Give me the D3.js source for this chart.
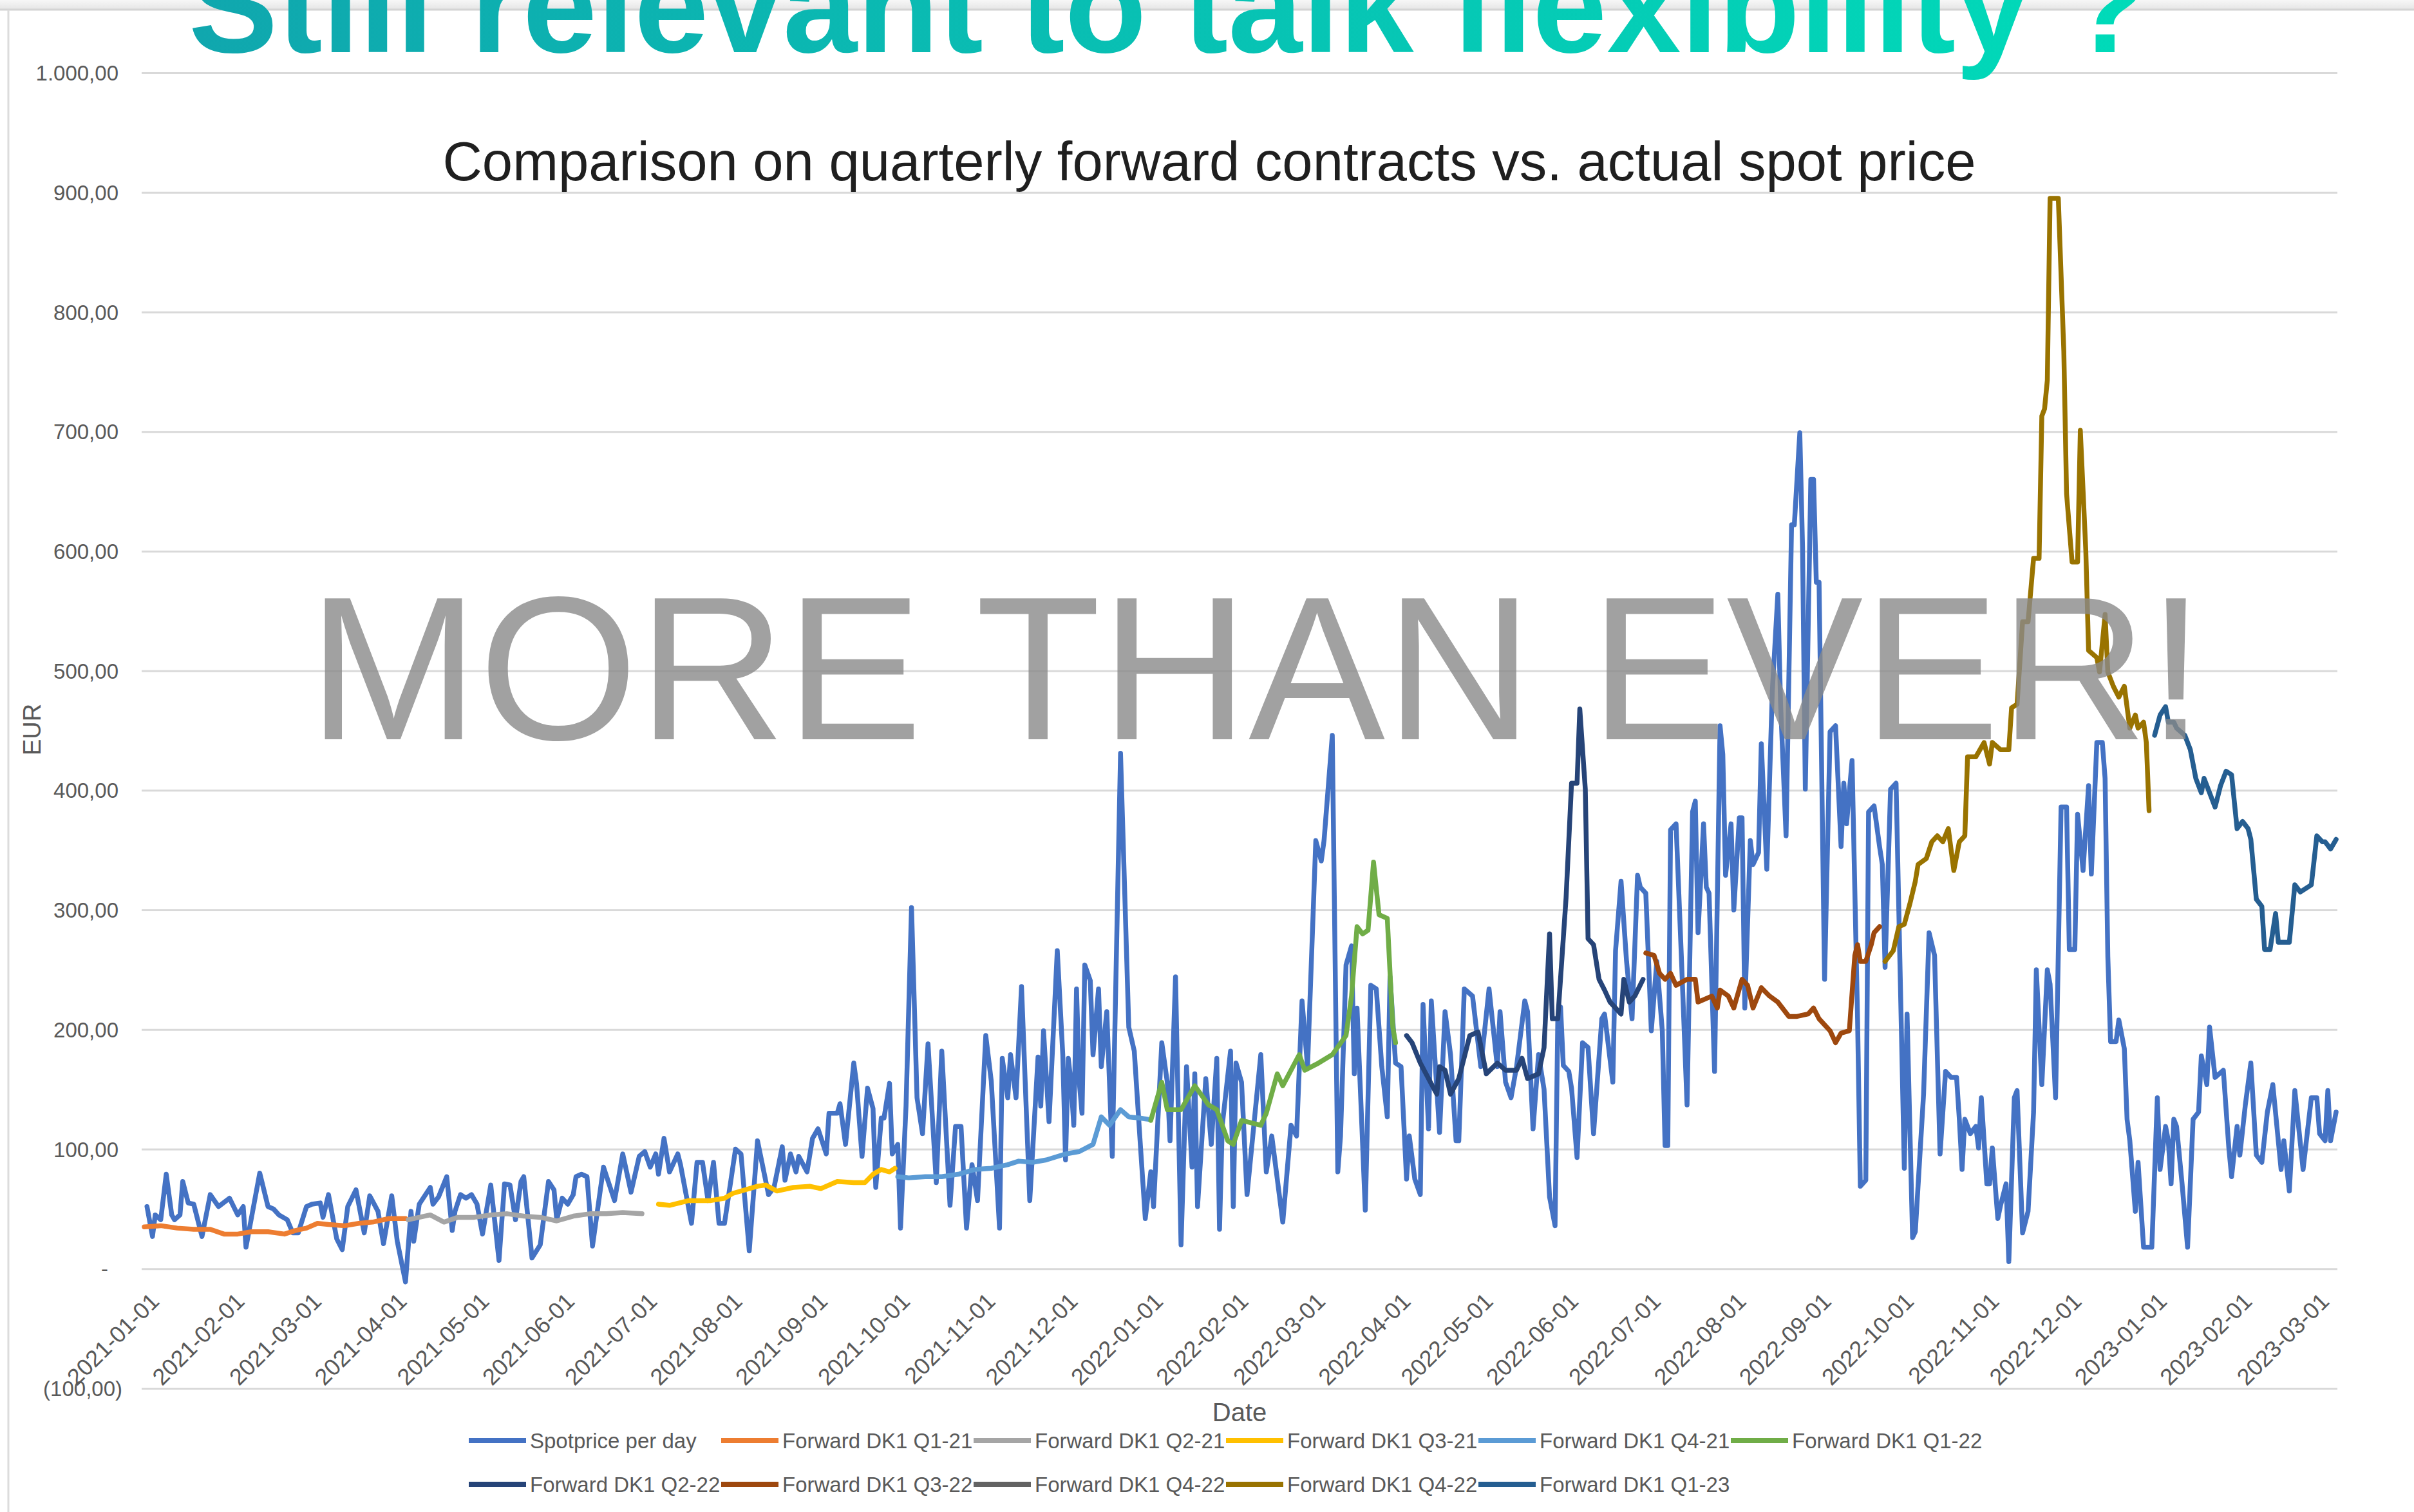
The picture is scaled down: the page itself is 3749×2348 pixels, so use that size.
<!DOCTYPE html>
<html>
<head>
<meta charset="utf-8">
<script src="https://cdn.jsdelivr.net/npm/d3@7"></script>
<style>
html,body{margin:0;padding:0;background:#fff;overflow:hidden}
svg{display:block}
text{font-family:"Liberation Sans",Arial,sans-serif}
</style>
</head>
<body>
<svg id="chart" width="3749" height="2348"></svg>
<script>
// ---------------- DATA ----------------
const titleText = "Still relevant to talk flexibility ?";
const subtitleText = "Comparison on quarterly forward contracts vs. actual spot price";
const watermarkText = "MORE THAN EVER!";
const xAxisTitle = "Date";
const yAxisTitle = "EUR";

const yTickValues = [-100, 0, 100, 200, 300, 400, 500, 600, 700, 800, 900, 1000];
const yTickLabels = ["(100,00)", "-", "100,00", "200,00", "300,00", "400,00", "500,00", "600,00", "700,00", "800,00", "900,00", "1.000,00"];

const xTickLabels = ["2021-01-01","2021-02-01","2021-03-01","2021-04-01","2021-05-01","2021-06-01","2021-07-01","2021-08-01","2021-09-01","2021-10-01","2021-11-01","2021-12-01",
  "2022-01-01","2022-02-01","2022-03-01","2022-04-01","2022-05-01","2022-06-01","2022-07-01","2022-08-01","2022-09-01","2022-10-01","2022-11-01","2022-12-01",
  "2023-01-01","2023-02-01","2023-03-01"];

const seriesNames = ["Spotprice per day","Forward DK1 Q1-21","Forward DK1 Q2-21","Forward DK1 Q3-21","Forward DK1 Q4-21","Forward DK1 Q1-22",
  "Forward DK1 Q2-22","Forward DK1 Q3-22","Forward DK1 Q4-22","Forward DK1 Q4-22","Forward DK1 Q1-23"];
const seriesColors = ["#4472C4","#ED7D31","#A5A5A5","#FFC000","#5B9BD5","#70AD47","#264478","#9E480E","#636363","#997300","#255E91"];

const spotDates = [
"2021-01-02","2021-01-04","2021-01-05","2021-01-07","2021-01-09","2021-01-11","2021-01-12","2021-01-14","2021-01-15","2021-01-17","2021-01-19","2021-01-22","2021-01-25","2021-01-28",
"2021-02-01","2021-02-04","2021-02-06","2021-02-07","2021-02-12","2021-02-15","2021-02-17","2021-02-19","2021-02-22","2021-02-24","2021-02-26",
"2021-03-01","2021-03-03","2021-03-06","2021-03-07","2021-03-09","2021-03-12","2021-03-14","2021-03-16","2021-03-19","2021-03-22","2021-03-24","2021-03-27","2021-03-29",
"2021-04-01","2021-04-03","2021-04-06","2021-04-08","2021-04-09","2021-04-11","2021-04-15","2021-04-16","2021-04-18","2021-04-21","2021-04-23","2021-04-24","2021-04-26","2021-04-28","2021-04-30",
"2021-05-02","2021-05-04","2021-05-07","2021-05-10","2021-05-12","2021-05-14","2021-05-16","2021-05-18","2021-05-19","2021-05-22","2021-05-25","2021-05-28","2021-05-30","2021-05-31",
"2021-06-02","2021-06-04","2021-06-06","2021-06-07","2021-06-09","2021-06-11","2021-06-13","2021-06-17","2021-06-21","2021-06-24","2021-06-27","2021-06-30",
"2021-07-02","2021-07-04","2021-07-06","2021-07-07","2021-07-09","2021-07-11","2021-07-14","2021-07-15","2021-07-19","2021-07-21","2021-07-23","2021-07-25","2021-07-27","2021-07-29","2021-07-31",
"2021-08-04","2021-08-06","2021-08-09","2021-08-12","2021-08-16","2021-08-18","2021-08-21","2021-08-22","2021-08-24","2021-08-26","2021-08-27","2021-08-30",
"2021-09-01","2021-09-03","2021-09-06","2021-09-07","2021-09-10","2021-09-11","2021-09-13","2021-09-16","2021-09-17","2021-09-19","2021-09-21","2021-09-23","2021-09-24","2021-09-26","2021-09-27","2021-09-29","2021-09-30",
"2021-10-02","2021-10-03","2021-10-05","2021-10-07","2021-10-09","2021-10-11","2021-10-13","2021-10-16","2021-10-18","2021-10-21","2021-10-23","2021-10-25","2021-10-27","2021-10-29","2021-10-31",
"2021-11-03","2021-11-05","2021-11-08","2021-11-09","2021-11-11","2021-11-12","2021-11-14","2021-11-16","2021-11-19","2021-11-22","2021-11-23","2021-11-24","2021-11-26","2021-11-29",
"2021-12-01","2021-12-02","2021-12-03","2021-12-04","2021-12-05","2021-12-06","2021-12-07","2021-12-08","2021-12-09","2021-12-11","2021-12-12","2021-12-14","2021-12-15","2021-12-17","2021-12-19","2021-12-22","2021-12-25","2021-12-27","2021-12-29","2021-12-31",
"2022-01-02","2022-01-03","2022-01-06","2022-01-08","2022-01-09","2022-01-11","2022-01-13","2022-01-15","2022-01-17","2022-01-18","2022-01-19","2022-01-22","2022-01-24","2022-01-26","2022-01-27","2022-01-28","2022-01-31",
"2022-02-01","2022-02-02","2022-02-04","2022-02-06","2022-02-11","2022-02-13","2022-02-15","2022-02-19","2022-02-22","2022-02-24","2022-02-26","2022-02-28",
"2022-03-03","2022-03-05","2022-03-06","2022-03-09","2022-03-11","2022-03-12","2022-03-14","2022-03-16","2022-03-17","2022-03-18","2022-03-21","2022-03-23","2022-03-25","2022-03-27","2022-03-29","2022-03-30",
"2022-04-01","2022-04-03","2022-04-05","2022-04-06","2022-04-08","2022-04-10","2022-04-11","2022-04-13","2022-04-14","2022-04-17","2022-04-19","2022-04-21","2022-04-23","2022-04-24","2022-04-26","2022-04-29",
"2022-05-02","2022-05-05","2022-05-08","2022-05-09","2022-05-11","2022-05-13","2022-05-15","2022-05-18","2022-05-19","2022-05-21","2022-05-23","2022-05-25","2022-05-27","2022-05-29","2022-05-30","2022-05-31",
"2022-06-01","2022-06-03","2022-06-04","2022-06-06","2022-06-08","2022-06-10","2022-06-12","2022-06-15","2022-06-16","2022-06-19","2022-06-20","2022-06-22","2022-06-24","2022-06-26","2022-06-28","2022-06-29",
"2022-07-01","2022-07-02","2022-07-03","2022-07-05","2022-07-07","2022-07-08","2022-07-09","2022-07-10","2022-07-12","2022-07-14","2022-07-16","2022-07-18","2022-07-19","2022-07-20","2022-07-22","2022-07-23","2022-07-24","2022-07-26","2022-07-28","2022-07-29","2022-07-30",
"2022-08-01","2022-08-02","2022-08-04","2022-08-05","2022-08-06","2022-08-08","2022-08-09","2022-08-11","2022-08-12","2022-08-14","2022-08-16","2022-08-18","2022-08-19","2022-08-21","2022-08-23","2022-08-24","2022-08-26","2022-08-27","2022-08-28","2022-08-30","2022-08-31",
"2022-09-01","2022-09-02","2022-09-04","2022-09-06","2022-09-08","2022-09-10","2022-09-11","2022-09-12","2022-09-14","2022-09-16","2022-09-17","2022-09-19","2022-09-20","2022-09-22","2022-09-24","2022-09-25","2022-09-26","2022-09-28","2022-09-30",
"2022-10-01","2022-10-03","2022-10-04","2022-10-06","2022-10-07","2022-10-10","2022-10-12","2022-10-14","2022-10-16","2022-10-18","2022-10-20","2022-10-22","2022-10-23","2022-10-24","2022-10-25","2022-10-27","2022-10-29","2022-10-30","2022-10-31",
"2022-11-02","2022-11-03","2022-11-04","2022-11-06","2022-11-07","2022-11-09","2022-11-10","2022-11-12","2022-11-13","2022-11-15","2022-11-17","2022-11-19","2022-11-20","2022-11-22","2022-11-24","2022-11-25","2022-11-27","2022-11-29",
"2022-12-01","2022-12-02","2022-12-04","2022-12-05","2022-12-07","2022-12-09","2022-12-10","2022-12-12","2022-12-14","2022-12-15","2022-12-16","2022-12-17","2022-12-19","2022-12-20","2022-12-22","2022-12-23","2022-12-24","2022-12-26","2022-12-27","2022-12-29",
"2023-01-01","2023-01-03","2023-01-04","2023-01-06","2023-01-07","2023-01-08","2023-01-09","2023-01-10","2023-01-12","2023-01-14","2023-01-16","2023-01-18","2023-01-19","2023-01-21","2023-01-22","2023-01-24","2023-01-27","2023-01-29","2023-01-30",
"2023-02-01","2023-02-02","2023-02-04","2023-02-06","2023-02-08","2023-02-10","2023-02-12","2023-02-14","2023-02-17","2023-02-18","2023-02-20","2023-02-22","2023-02-25","2023-02-28",
"2023-03-02","2023-03-03","2023-03-05","2023-03-06","2023-03-07","2023-03-09"];
const spotValues = [
52,27,45,41,79,45,41,45,73,55,54,27,62,52,
59,45,52,18,80,52,50,45,41,30,30,
52,54,55,43,62,25,16,52,66,30,61,48,21,
61,23,-11,48,23,54,68,54,60,77,32,48,62,59,62,
54,29,70,7,71,70,41,73,77,9,20,73,66,41,
59,54,62,77,79,77,19,85,57,96,64,94,
98,85,96,79,109,81,96,87,38,89,89,57,89,38,38,
100,96,15,107,62,68,102,74,96,81,94,81,
109,117,96,130,130,138,104,172,155,94,151,134,68,126,126,155,96,
104,34,136,302,143,113,188,72,182,53,119,119,34,87,57,
195,157,34,176,143,179,143,236,57,177,136,199,123,266,
179,91,176,156,120,234,156,130,254,241,179,234,169,215,94,431,202,182,111,42,
81,52,189,156,107,244,20,169,85,163,52,159,104,176,33,120,182,
52,172,156,62,179,81,111,39,120,111,224,169,
358,341,358,446,81,111,254,270,163,218,49,237,234,169,127,244,
172,169,75,111,75,62,221,117,224,114,215,179,107,107,234,228,
169,234,169,215,156,143,169,224,215,117,179,150,60,36,209,219,
170,165,151,93,189,185,113,209,213,156,266,324,257,209,329,319,
314,257,199,257,199,103,103,367,372,257,137,382,391,281,372,319,314,165,454,430,329,
372,300,377,377,218,358,338,348,439,334,483,564,473,362,622,622,699,603,401,660,660,
574,574,242,449,454,353,406,372,425,209,69,74,382,387,353,338,252,401,406,
300,84,213,26,31,146,281,262,96,165,160,160,125,83,125,113,119,101,143,
71,71,101,42,53,71,6,143,149,30,48,131,250,154,250,238,143,386,
386,267,267,380,333,404,330,440,440,410,261,190,190,208,184,125,107,48,89,18,
18,143,83,119,107,71,125,119,71,18,125,131,178,154,202,160,166,101,77,
119,95,137,172,95,89,131,154,83,107,65,149,83,143,
143,113,107,149,107,131];

const fwdQ121Dates = ["2021-01-01","2021-01-07","2021-01-13","2021-01-19","2021-01-25","2021-01-30","2021-02-04","2021-02-09","2021-02-15","2021-02-21","2021-02-25","2021-03-01","2021-03-05","2021-03-09","2021-03-15","2021-03-20","2021-03-25","2021-03-31","2021-04-06"];
const fwdQ121Values = [35,36,34,33,33,29,29,31,31,29,32,34,38,37,36,38,39,42,42];

const fwdQ221Dates = ["2021-04-07","2021-04-15","2021-04-20","2021-04-25","2021-05-01","2021-05-07","2021-05-13","2021-05-19","2021-05-25","2021-05-31","2021-06-06","2021-06-12","2021-06-18","2021-06-24","2021-07-01"];
const fwdQ221Values = [41,45,39,43,43,45,46,44,43,40,44,46,46,47,46];

const fwdQ321Dates = ["2021-07-07","2021-07-11","2021-07-18","2021-07-26","2021-07-31","2021-08-03","2021-08-12","2021-08-15","2021-08-19","2021-08-25","2021-08-31","2021-09-04","2021-09-10","2021-09-16","2021-09-20","2021-09-23","2021-09-26","2021-09-29","2021-10-01"];
const fwdQ321Values = [54,53,57,57,59,63,69,70,65,68,69,67,73,72,72,79,83,81,84];

const fwdQ421Dates = ["2021-10-02","2021-10-06","2021-10-12","2021-10-18","2021-10-24","2021-10-30","2021-11-05","2021-11-11","2021-11-15","2021-11-20","2021-11-25","2021-12-02","2021-12-07","2021-12-12","2021-12-15","2021-12-18","2021-12-22","2021-12-25","2021-12-29","2022-01-01"];
const fwdQ421Values = [77,76,77,77,79,83,84,87,90,89,91,96,98,104,127,120,133,127,126,125];

const fwdQ122Dates = ["2022-01-02","2022-01-06","2022-01-08","2022-01-13","2022-01-18","2022-01-23","2022-01-26","2022-01-30","2022-02-01","2022-02-04","2022-02-11","2022-02-13","2022-02-17","2022-02-19","2022-02-25","2022-02-27","2022-03-04","2022-03-09","2022-03-14","2022-03-16","2022-03-18","2022-03-20","2022-03-22","2022-03-24","2022-03-26","2022-03-29","2022-03-31","2022-04-01"];
const fwdQ122Values = [124,156,133,133,153,137,133,107,104,124,120,130,163,153,179,166,172,179,195,228,286,280,283,340,296,293,202,189];

const fwdQ222Dates = ["2022-04-05","2022-04-07","2022-04-10","2022-04-13","2022-04-16","2022-04-17","2022-04-19","2022-04-21","2022-04-24","2022-04-28","2022-05-01","2022-05-04","2022-05-08","2022-05-11","2022-05-15","2022-05-17","2022-05-19","2022-05-23","2022-05-25","2022-05-27","2022-05-28","2022-05-30","2022-06-02","2022-06-04","2022-06-06","2022-06-07","2022-06-09","2022-06-10","2022-06-12","2022-06-14","2022-06-16","2022-06-18","2022-06-20","2022-06-22","2022-06-23","2022-06-25","2022-06-27","2022-06-30"];
const fwdQ222Values = [195,189,172,159,146,169,166,146,159,195,198,163,172,166,166,176,159,163,185,280,209,209,310,406,406,468,401,276,271,242,233,223,218,213,242,223,228,242];

const fwdQ322Dates = ["2022-07-01","2022-07-04","2022-07-06","2022-07-08","2022-07-10","2022-07-12","2022-07-16","2022-07-19","2022-07-20","2022-07-25","2022-07-27","2022-07-28","2022-07-31","2022-08-02","2022-08-05","2022-08-07","2022-08-09","2022-08-12","2022-08-15","2022-08-18","2022-08-22","2022-08-25","2022-08-29","2022-08-31","2022-09-02","2022-09-06","2022-09-08","2022-09-10","2022-09-13","2022-09-15","2022-09-16","2022-09-17","2022-09-19","2022-09-21","2022-09-22","2022-09-24"];
const fwdQ322Values = [264,262,247,242,247,237,242,242,223,228,218,233,228,218,242,237,218,235,228,223,211,211,213,218,209,199,189,197,199,262,271,257,257,271,281,286];

const fwdQ422aDates = [];
const fwdQ422aValues = [];

const fwdQ422Dates = ["2022-09-26","2022-09-29","2022-10-01","2022-10-03","2022-10-05","2022-10-07","2022-10-08","2022-10-11","2022-10-13","2022-10-15","2022-10-17","2022-10-19","2022-10-21","2022-10-23","2022-10-25","2022-10-26","2022-10-29","2022-11-01","2022-11-03","2022-11-04","2022-11-07","2022-11-10","2022-11-11","2022-11-13","2022-11-15","2022-11-17","2022-11-19","2022-11-21","2022-11-22","2022-11-23","2022-11-24","2022-11-25","2022-11-28","2022-11-30","2022-12-01","2022-12-03","2022-12-05","2022-12-06","2022-12-08","2022-12-09","2022-12-12","2022-12-13","2022-12-15","2022-12-16","2022-12-18","2022-12-20","2022-12-22","2022-12-24","2022-12-26","2022-12-27","2022-12-29","2022-12-30","2022-12-31"];
const fwdQ422Values = [257,266,286,288,305,324,338,343,357,362,357,368,333,357,362,428,428,440,422,440,434,434,469,472,541,541,594,594,713,719,743,895,895,767,648,591,591,701,600,517,511,499,547,499,487,478,487,452,463,452,457,440,383];

const fwdQ123Dates = ["2023-01-02","2023-01-04","2023-01-06","2023-01-07","2023-01-09","2023-01-10","2023-01-13","2023-01-15","2023-01-17","2023-01-19","2023-01-20","2023-01-22","2023-01-24","2023-01-26","2023-01-28","2023-01-30","2023-02-01","2023-02-03","2023-02-05","2023-02-06","2023-02-08","2023-02-10","2023-02-11","2023-02-13","2023-02-15","2023-02-16","2023-02-20","2023-02-22","2023-02-24","2023-02-28","2023-03-02","2023-03-04","2023-03-05","2023-03-07","2023-03-09"];
const fwdQ123Values = [446,463,470,457,457,452,446,434,410,398,410,398,386,404,416,413,368,374,368,359,309,303,267,267,297,273,273,321,315,321,362,357,357,351,359];

// ---------------- CHART ----------------
const parse = d3.utcParse("%Y-%m-%d");
const seriesDates = [spotDates, fwdQ121Dates, fwdQ221Dates, fwdQ321Dates, fwdQ421Dates, fwdQ122Dates, fwdQ222Dates, fwdQ322Dates, fwdQ422aDates, fwdQ422Dates, fwdQ123Dates];
const seriesValues = [spotValues, fwdQ121Values, fwdQ221Values, fwdQ321Values, fwdQ421Values, fwdQ122Values, fwdQ222Values, fwdQ322Values, fwdQ422aValues, fwdQ422Values, fwdQ123Values];
const series = seriesNames.map((name, i) => ({
  name, color: seriesColors[i],
  points: seriesDates[i].map((d, j) => ({date: parse(d), value: seriesValues[i][j]}))
}));

const svg = d3.select("#chart");
const W = 3749, H = 2348;
svg.append("rect").attr("width", W).attr("height", H).attr("fill", "#ffffff");

// slide frame
const defs = svg.append("defs");
const fg = defs.append("linearGradient").attr("id", "frameGrad").attr("x1", 0).attr("y1", 0).attr("x2", 0).attr("y2", 1);
fg.append("stop").attr("offset", 0).attr("stop-color", "#f7f7f7");
fg.append("stop").attr("offset", 1).attr("stop-color", "#e6e6e6");
svg.append("rect").attr("x", 0).attr("y", 0).attr("width", W).attr("height", 14).attr("fill", "url(#frameGrad)");
svg.append("line").attr("x1", 0).attr("x2", W).attr("y1", 15).attr("y2", 15).attr("stroke", "#d4d4d4").attr("stroke-width", 3);
svg.append("line").attr("x1", 13).attr("x2", 13).attr("y1", 15).attr("y2", H).attr("stroke", "#dcdcdc").attr("stroke-width", 3);

const x = d3.scaleUtc().domain([parse("2021-01-01"), parse("2023-03-09")]).range([224, 3628]);
const y = d3.scaleLinear().domain([-100, 1000]).range([2156, 113]);

// gridlines
const grid = svg.append("g").attr("transform", "translate(220,0)")
  .call(d3.axisLeft(y).tickValues(yTickValues).tickSize(-3410).tickFormat(""));
grid.select(".domain").remove();
grid.selectAll(".tick line").attr("stroke", "#d9d9d9").attr("stroke-width", 3);

// y axis labels
const yAxis = svg.append("g").attr("transform", "translate(184,0)")
  .call(d3.axisLeft(y).tickValues(yTickValues).tickSize(0).tickPadding(0)
    .tickFormat((d, i) => yTickLabels[i]));
yAxis.select(".domain").remove();
yAxis.attr("font-family", null).attr("font-size", null);
yAxis.selectAll(".tick text")
  .attr("fill", "#595959").attr("font-size", 33)
  .attr("x", d => d < 0 ? 6 : (d === 0 ? -16 : 0))
  .attr("dy", "0.35em");

// x axis labels
const xAxis = svg.append("g").attr("transform", "translate(0,2023)")
  .call(d3.axisBottom(x).tickValues(xTickLabels.map(parse)).tickSize(0)
    .tickFormat(d3.utcFormat("%Y-%m-%d")));
xAxis.select(".domain").remove();
xAxis.attr("font-family", null).attr("font-size", null);
xAxis.selectAll(".tick text")
  .attr("fill", "#595959").attr("font-size", 36)
  .attr("x", 0).attr("y", 0).attr("dy", 0)
  .attr("text-anchor", "end")
  .attr("transform", "translate(25,0) rotate(-45)");

// series lines
const line = d3.line().x(d => x(d.date)).y(d => y(d.value));
const linesG = svg.append("g");
series.forEach(s => {
  if (!s.points.length) return;
  linesG.append("path").datum(s.points)
    .attr("d", line).attr("fill", "none")
    .attr("stroke", s.color).attr("stroke-width", 7.5)
    .attr("stroke-linejoin", "round").attr("stroke-linecap", "round");
});

// watermark
svg.append("text").attr("x", 1951).attr("y", 1148)
  .attr("text-anchor", "middle").attr("font-size", 318)
  .attr("fill", "#8a8a8a").attr("fill-opacity", 0.8)
  .text(watermarkText);

// subtitle
svg.append("text").attr("x", 1878).attr("y", 280)
  .attr("text-anchor", "middle").attr("font-size", 85).attr("fill", "#1f1f1f")
  .text(subtitleText);

// title with gradient (cut off by the top edge, as in the reference)
const tg = defs.append("linearGradient").attr("id", "titleGrad")
  .attr("gradientUnits", "userSpaceOnUse").attr("x1", 300).attr("y1", 0).attr("x2", 3340).attr("y2", 0);
tg.append("stop").attr("offset", 0).attr("stop-color", "#10a7ae");
tg.append("stop").attr("offset", 1).attr("stop-color", "#00dbb9");
svg.append("text").attr("x", 293).attr("y", 81)
  .attr("font-size", 207).attr("font-weight", "bold").attr("fill", "url(#titleGrad)")
  .attr("textLength", 3044).attr("lengthAdjust", "spacingAndGlyphs")
  .text(titleText);

// axis titles
svg.append("text").attr("x", 1925).attr("y", 2207).attr("text-anchor", "middle")
  .attr("font-size", 40).attr("fill", "#595959").text(xAxisTitle);
svg.append("text").attr("transform", "translate(63,1133) rotate(-90)").attr("text-anchor", "middle")
  .attr("font-size", 38).attr("fill", "#595959").text(yAxisTitle);

// legend
const legend = svg.append("g");
const leg = legend.selectAll("g").data(series).join("g")
  .attr("transform", (d, i) => `translate(${728 + (i % 6) * 392},${i < 6 ? 2237 : 2305})`);
leg.append("line").attr("x1", 0).attr("x2", 89).attr("y1", 0).attr("y2", 0)
  .attr("stroke", d => d.color).attr("stroke-width", 8);
leg.append("text").attr("x", 95).attr("y", 0).attr("dy", "0.35em")
  .attr("font-size", 33).attr("fill", "#595959").text(d => d.name);
</script>
</body>
</html>
